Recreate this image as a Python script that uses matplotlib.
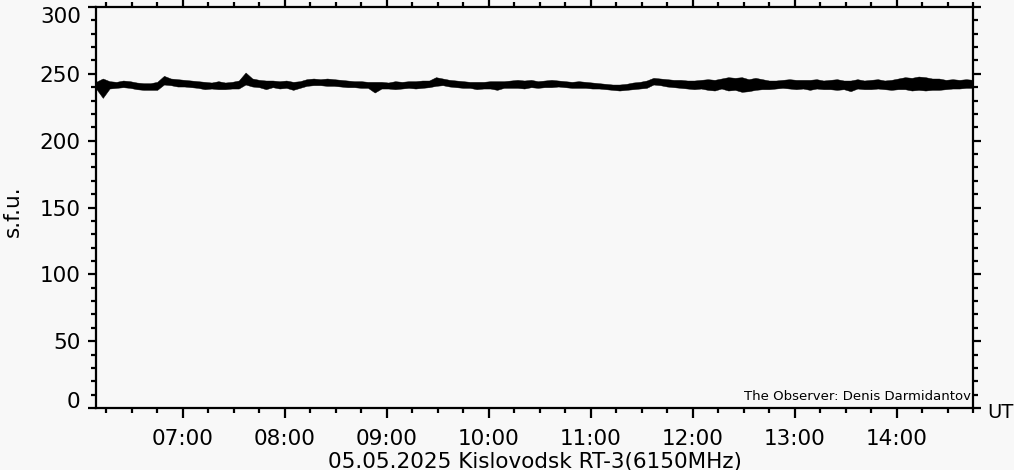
import matplotlib
matplotlib.use("Agg")
import matplotlib.pyplot as plt
import matplotlib.dates as mdates
import numpy as np
from datetime import datetime, timedelta

# ---- data ----
start_time = datetime(2025, 5, 5, 6, 9)
step_minutes = 4
flux_high = [
    244, 246.5, 244.5, 244, 245, 244.5, 243.5, 243, 243, 244,
    248.5, 246.5, 246, 245.5, 245, 244.5, 244, 243.5, 244.5, 243.5,
    244, 245, 251, 246.5, 245.5, 245, 245, 244.5, 245, 244,
    244.5, 246, 246.5, 246, 246.5, 246, 245.5, 245, 244.5, 244.5,
    244, 244, 244, 243.5, 244.5, 244, 244.5, 244.5, 245, 245,
    247.5, 246.5, 245.5, 245, 244.5, 244, 244, 244, 244.5, 244.5,
    244.5, 245, 245.5, 245, 245.5, 244.5, 245, 245.5, 245, 244.5,
    244, 244.5, 244, 243.5, 243, 242.5, 242, 242, 242.5, 243.5,
    244, 245, 247, 246.5, 246, 245.5, 245.5, 245, 245, 245.5,
    246, 245.5, 246.5, 247.5, 247, 247.5, 246, 247, 246, 245,
    245, 245.5, 246, 245.5, 245.5, 245.5, 246, 245, 245.5, 246,
    245, 245, 246, 245, 245.5, 246, 245, 245.5, 246.5, 247.5,
    247, 248, 247.5, 246.5, 246.5, 245.5, 246, 245.5, 246, 245.5,
]
flux_low = [
    239, 232, 239, 239.5, 240, 239.5, 238.5, 238, 238, 238,
    242, 241.5, 240.5, 240.5, 240, 239.5, 238.5, 239, 238.5, 238.5,
    239, 239, 242, 240.5, 240, 238.5, 240, 239, 239.5, 238,
    239.5, 241, 241.5, 241.5, 241, 241, 240.5, 240, 240, 239.5,
    239.5, 236, 239, 239, 238.5, 239, 239.5, 239, 239.5, 240,
    241, 241.5, 240.5, 240, 239.5, 239.5, 238.5, 239, 239, 238,
    239.5, 239.5, 239.5, 239, 240, 239.5, 240, 240, 240.5, 240,
    239.5, 239.5, 239.5, 239, 239, 238.5, 238, 237.5, 238, 238.5,
    239, 239.5, 242, 241.5, 240.5, 240, 239.5, 239, 238.5, 239,
    238, 237.5, 239, 237.5, 238, 236.5, 237, 238, 238.5, 238.5,
    239, 239.5, 239, 238.5, 239, 238, 239, 238.5, 238.5, 238,
    238.5, 237, 239, 238.5, 238.5, 239, 238.5, 238, 238.5, 238.5,
    237.5, 238, 237.5, 238, 238, 238.5, 239, 239, 239.5, 239.5,
]
y_ticks = [0, 50, 100, 150, 200, 250, 300]
x_tick_hours = [7, 8, 9, 10, 11, 12, 13, 14]
title_text = "05.05.2025 Kislovodsk RT-3(6150MHz)"
observer_text = "The Observer: Denis Darmidantov"

times = [start_time + timedelta(minutes=step_minutes * k) for k in range(len(flux_high))]

bg = "#f8f8f8"
plt.rcParams["font.family"] = ["DejaVu Sans"]
fig = plt.figure(figsize=(10.14, 4.70), dpi=100, facecolor=bg)
ax = fig.add_axes([96 / 1014, 1 - 408 / 470, (973 - 96) / 1014, (408 - 7) / 470])
ax.set_facecolor(bg)

# noisy record drawn as its envelope band
ax.fill_between(times, flux_low, flux_high, color="black", linewidth=0.3,
                edgecolor="black")

x0 = datetime(2025, 5, 5, 6, 9)
x1 = datetime(2025, 5, 5, 14, 45)
ax.set_xlim(x0, x1)
ax.set_ylim(0, 300)

ax.set_xticks([datetime(2025, 5, 5, h, 0) for h in x_tick_hours])
ax.xaxis.set_major_formatter(mdates.DateFormatter("%H:%M"))
ax.xaxis.set_minor_locator(mdates.MinuteLocator(byminute=[0, 15, 30, 45]))
ax.set_yticks(y_ticks)
ax.yaxis.set_minor_locator(matplotlib.ticker.MultipleLocator(10))

for s in ax.spines.values():
    s.set_linewidth(1.6)

ax.tick_params(axis="both", which="both", direction="out", width=1.6,
               top=True, right=True, labeltop=False, labelright=False)
ax.tick_params(axis="x", which="major", length=7, labelsize=15.5, pad=8)
ax.tick_params(axis="x", which="minor", length=3.5)
ax.tick_params(axis="y", which="major", length=6, labelsize=15.5, pad=5)
ax.tick_params(axis="y", which="minor", length=3.5)

for lab in ax.get_yticklabels():
    txt = lab.get_text()
    if txt == "300":
        lab.set_va("top")
    elif txt == "0":
        lab.set_va("baseline")

ax.set_ylabel("s.f.u.", fontsize=15.5)
ax.yaxis.set_label_coords(-0.083, 0.49)

fig.text(534.5 / 1014, 1 - 462 / 470, title_text, ha="center", va="center", fontsize=15.5)
fig.text(987 / 1014, 1 - 413 / 470, "UT", ha="left", va="center", fontsize=14)
ax.text(0.998, 0.012, observer_text, transform=ax.transAxes, ha="right", va="bottom",
        fontsize=9.5)

fig.savefig("out.png", dpi=100, facecolor=bg)
